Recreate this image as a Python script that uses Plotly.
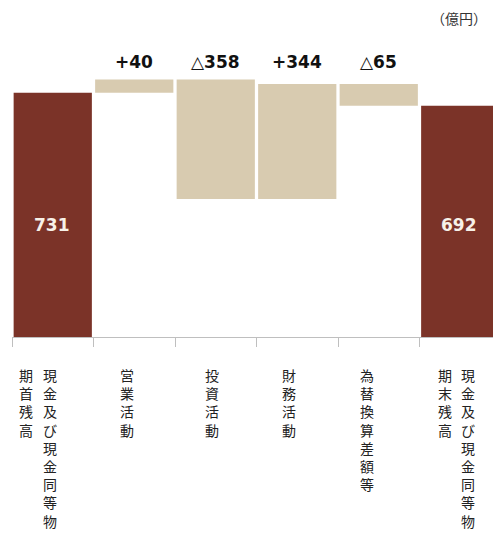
import plotly.graph_objects as go

# ---- data ----
categories = ["期首残高", "営業活動", "投資活動", "財務活動", "為替換算差額等", "期末残高"]
measures = ["absolute", "relative", "relative", "relative", "relative", "total"]
values = [731, 40, -358, 344, -65, 0]
# vertical label columns (right column first, as read in Japanese vertical writing)
label_columns = [
    ["現金及び現金同等物", "期首残高"],
    ["営業活動"],
    ["投資活動"],
    ["財務活動"],
    ["為替換算差額等"],
    ["現金及び現金同等物", "期末残高"],
]
unit_label = "（億円）"

# ---- style ----
DARK = "#7B3328"
TAN = "#D8CBB0"
NUM_FONT = "DejaVu Sans"
JP_FONT = "Noto Sans CJK JP"
col_shift = [[-3, -27], [-7], [-4], [-8], [-12], [8, -15]]
# page has an 8px body margin; compensate so the plot lands where the reference has it
OFF = 8

start = values[0]
end_total = sum(values[:5])

def change_text(v):
    return f"+{v}" if v > 0 else f"△{-v}"

fig = go.Figure(go.Waterfall(
    x=categories,
    measure=measures,
    y=values,
    totals=dict(marker=dict(color=DARK)),
    increasing=dict(marker=dict(color=TAN)),
    decreasing=dict(marker=dict(color=TAN)),
    connector=dict(visible=False),
    hoverinfo="skip",
))

annotations = []
# total labels inside the dark bars
for i, v in [(0, start), (5, end_total)]:
    annotations.append(dict(
        x=categories[i], y=335, xref="x", yref="y",
        text=f"<b>{v}</b>", showarrow=False,
        font=dict(family=NUM_FONT, size=17, color="#F7F1E8"),
        xanchor="center", yanchor="middle", xshift=-1,
    ))
# change labels above bars
for i in range(1, 5):
    annotations.append(dict(
        x=categories[i], y=823, xref="x", yref="y",
        text=f"<b>{change_text(values[i])}</b>", showarrow=False,
        font=dict(family=NUM_FONT, size=17, color="#111111"),
        xanchor="center", yanchor="middle",
    ))
# vertical category labels, one column per annotation
for i, cols in enumerate(label_columns):
    for j, col in enumerate(cols):
        annotations.append(dict(
            x=categories[i], y=0, xref="x", yref="paper",
            text="<br>".join(list(col)), showarrow=False,
            font=dict(family=JP_FONT, size=14, color="#222222"),
            xanchor="center", yanchor="top", align="center",
            yshift=-26, xshift=col_shift[i][j],
        ))
annotations.append(dict(
    xref="paper", yref="paper", x=1, y=1, text=unit_label, showarrow=False,
    xanchor="right", yanchor="middle", xshift=-12, yshift=22,
    font=dict(family=JP_FONT, size=14, color="#333333"),
))

fig.update_layout(
    width=501, height=536,
    margin=dict(l=12 - OFF, r=OFF, t=40 - OFF, b=199 + OFF),
    paper_bgcolor="white", plot_bgcolor="white",
    showlegend=False,
    waterfallgap=0.04,
    annotations=annotations,
    xaxis=dict(
        showticklabels=False, ticks="outside", tickson="boundaries", ticklen=9,
        tickcolor="#BFBFBF", showline=True, linecolor="#BFBFBF", linewidth=1,
        showgrid=False, zeroline=False, fixedrange=True,
    ),
    yaxis=dict(
        range=[0, 889], visible=False, showgrid=False, zeroline=False, fixedrange=True,
    ),
)

fig.write_html("out.html", config={"displayModeBar": False})
